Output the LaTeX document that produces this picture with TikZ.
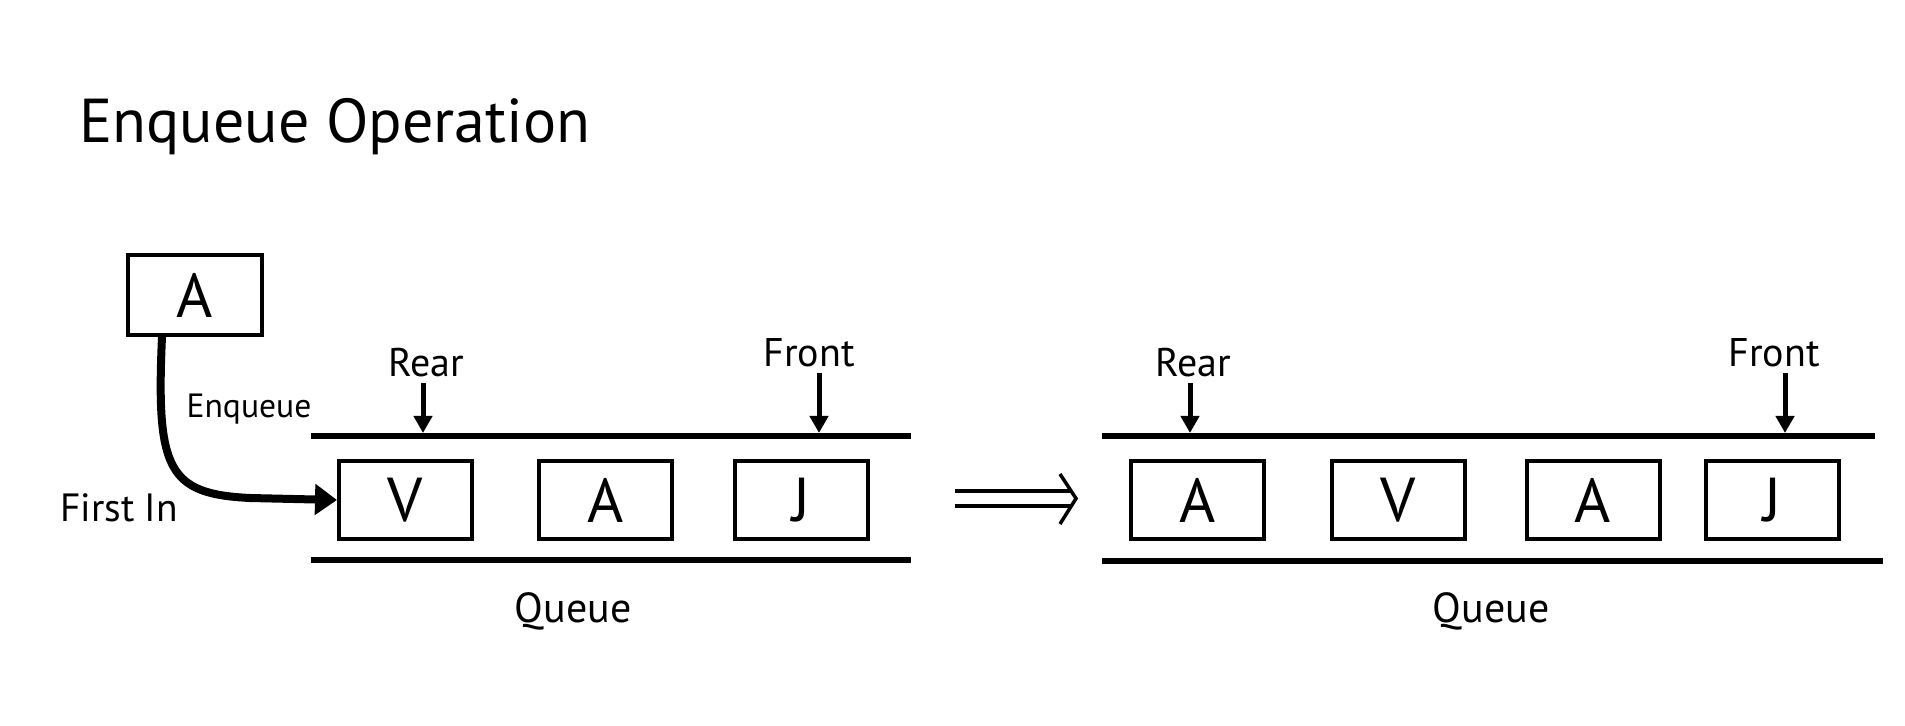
\documentclass[tikz,border=0pt]{standalone}
\usepackage{fontspec}
\setmainfont{PT Sans}
\usetikzlibrary{arrows.meta}

\begin{document}
\begin{tikzpicture}[x=0.5pt,y=-0.5pt,
    cell/.style={draw,line width=2pt,minimum width=66.5pt,minimum height=39pt,
        inner sep=0pt,font=\fontsize{31}{37}\selectfont},
    rail/.style={line width=3pt},
    ptr/.style={line width=2.5pt,-{Triangle[length=8.5pt,width=9pt]}},
    enq/.style={line width=4pt,-{Triangle[length=11pt,width=15pt]}},
    lbl/.style={anchor=base,inner sep=2.5pt,font=\fontsize{20}{24}\selectfont}]
    \useasboundingbox (0,0) rectangle (1905,726);
    % title
    \node[anchor=base west,inner sep=0pt,font=\fontsize{31}{37}\selectfont] (title) at (79,143) {Enqueue Operation};
    % element to insert
    \node[cell,minimum width=67pt,minimum height=40pt] (new) at (195,295) {A};
    % queue before
    \draw[rail] (311,436) -- (911,436);
    \draw[rail] (311,560) -- (911,560);
    \foreach \x/\t [count=\i] in {405.5/V,605.5/A,801.5/J} {
        \node[cell] (l\i) at (\x,500) {\t};
    }
    \node[lbl] (lrear) at (426,377) {Rear};
    \node[lbl] (lfront) at (809,367) {Front};
    \coordinate (lrtip) at (423,433);
    \coordinate (lftip) at (819,433);
    \draw[ptr] (lrear.south -| lrtip) -- (lrtip);
    \draw[ptr] (lfront.south -| lftip) -- (lftip);
    \node[anchor=base,font=\fontsize{21}{25}\selectfont] (lq) at (573,622) {Queue};
    % enqueue arrow
    \draw[enq] ([xshift=-16.5pt]new.south) .. controls (156,470) and (168,494) .. (250,498) -- (l1.west);
    \node[anchor=base,font=\fontsize{16.8}{20}\selectfont] (enqL) at (249,418) {Enqueue};
    \node[anchor=base,font=\fontsize{19.7}{24}\selectfont] (first) at (119,522) {First In};
    % implies
    \draw[line width=1.75pt] (955,491) -- (1071,491);
    \draw[line width=1.75pt] (955,506) -- (1071,506);
    \draw[line width=1.75pt] (1060,474) -- (1076,498.5) -- (1060,524);
    % queue after
    \draw[rail] (1102,436) -- (1875,436);
    \draw[rail] (1102,561) -- (1883,561);
    \foreach \x/\t [count=\i] in {1197.5/A,1398/V,1593/A,1772/J} {
        \node[cell] (r\i) at (\x,500) {\t};
    }
    \node[lbl] (rrear) at (1193,377) {Rear};
    \node[lbl] (rfront) at (1774,367) {Front};
    \coordinate (rrtip) at (1190,433);
    \coordinate (rftip) at (1785,433);
    \draw[ptr] (rrear.south -| rrtip) -- (rrtip);
    \draw[ptr] (rfront.south -| rftip) -- (rftip);
    \node[anchor=base,font=\fontsize{21}{25}\selectfont] (rq) at (1491,622) {Queue};
\end{tikzpicture}
\end{document}
